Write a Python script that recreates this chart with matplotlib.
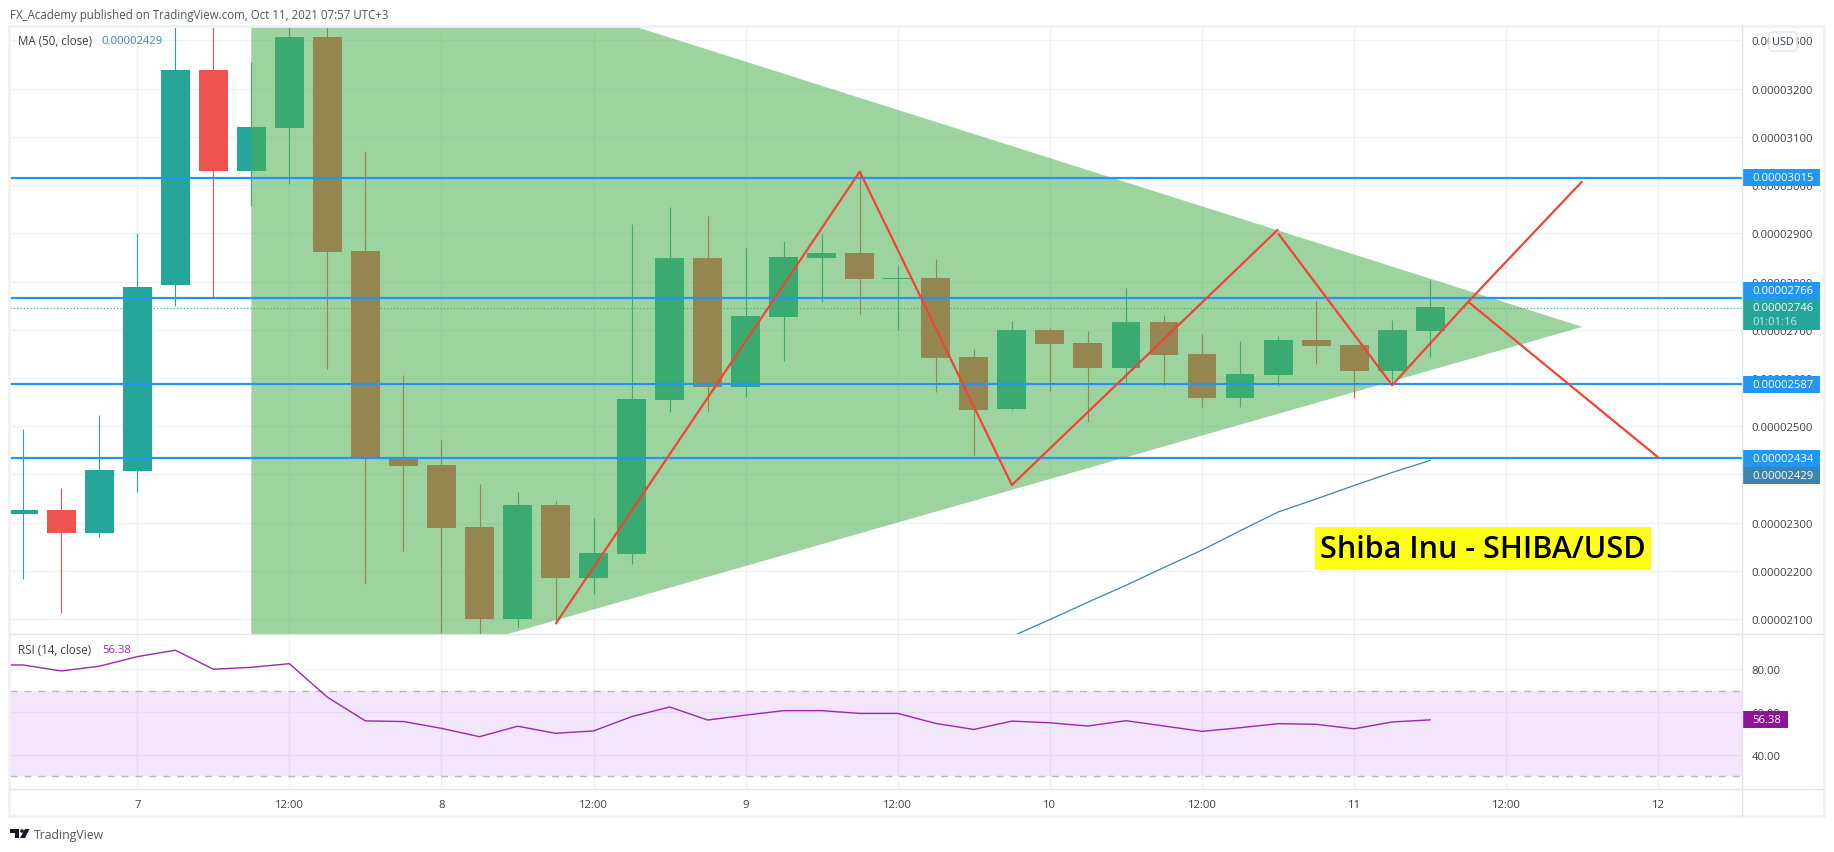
import matplotlib
matplotlib.use('Agg')
import matplotlib.pyplot as plt
import matplotlib.patches as patches

plt.rcParams['font.family'] = ['Open Sans', 'DejaVu Sans']

W, H = 1834, 853
TEAL = '#26a69a'
RED = '#ef5350'
BLUE = '#2196f3'
GRID = '#f0f2f6'
LINE = '#e0e3eb'
TXT = '#3c3f48'
FS = 8.1

# candle index 0 is the 7th 00:00, prices in units of 1e-8
candle_i = list(range(-3, 35))
opens = [2318, 2326, 2278, 2407, 2793, 3239, 3029, 3119, 3307, 2863, 2434, 2419, 2291, 2100,
         2337, 2185, 2235, 2554, 2849, 2581, 2727, 2849, 2859, 2805, 2807, 2643, 2536, 2700,
         2673, 2621, 2716, 2650, 2558, 2606, 2679, 2668, 2615, 2698]
closes = [2326, 2278, 2409, 2789, 3239, 3029, 3121, 3307, 2861, 2436, 2417, 2289, 2100, 2337,
          2185, 2237, 2556, 2849, 2581, 2729, 2851, 2859, 2805, 2807, 2641, 2534, 2700, 2671,
          2621, 2716, 2648, 2558, 2608, 2679, 2666, 2615, 2700, 2747]
highs = [2494, 2372, 2523, 2901, 3360, 3350, 3256, 3360, 3360, 3071, 2606, 2471, 2380, 2363,
         2345, 2310, 2919, 2955, 2936, 2870, 2884, 2899, 3027, 2832, 2847, 2660, 2718, 2704,
         2697, 2787, 2731, 2691, 2677, 2687, 2760, 2670, 2720, 2803]
lows = [2183, 2112, 2270, 2363, 2749, 2768, 2957, 3002, 2619, 2173, 2241, 2040, 2050, 2081,
        2090, 2152, 2214, 2529, 2531, 2561, 2635, 2758, 2733, 2700, 2571, 2440, 2534, 2573,
        2509, 2592, 2583, 2540, 2540, 2583, 2629, 2558, 2588, 2643]

ma_i = [23, 24, 25, 26, 27, 28, 29, 30, 31, 32, 33, 34]
ma_vals = [2064, 2099, 2135, 2170, 2207, 2243, 2283, 2322, 2349, 2377, 2404, 2429]

rsi_i = list(range(-4, 35))
rsi_vals = [82.1, 82.1, 79.3, 81.5, 86, 89, 80.1, 81, 82.7, 67, 55.9, 55.6, 52.4, 48.5, 53.4,
            50.1, 51.2, 57.9, 62.4, 56.3, 58.6, 60.7, 60.7, 59.4, 59.4, 54.7, 51.9, 55.8, 55,
            53.5, 56, 53.5, 51, 52.7, 54.6, 54.3, 52.2, 55.4, 56.38]

hlines = [3015, 2766, 2587, 2434]
last_price = 2746
triangle_i = [3, 38, 3]
triangle_p = [3581, 2706, 1917]
zig1_i = [11, 19, 23, 30]
zig1_p = [2090, 3028, 2378, 2908]
zig2_i = [30, 33, 35, 38]
zig2_p = [2900, 2585, 2758, 3008]
zig3_i = [35, 40]
zig3_p = [2758, 2435]

price_ticks = [3300, 3200, 3100, 3000, 2900, 2800, 2700, 2600, 2500, 2400, 2300, 2200, 2100]
rsi_ticks = [80, 60, 40]
time_ticks = [0, 4, 8, 12, 16, 20, 24, 28, 32, 36, 40]
time_labels = ['7', '12:00', '8', '12:00', '9', '12:00', '10', '12:00', '11', '12:00', '12']

# pixel layout of the panes
L, R = 9.5, 1742
TOP, MID, BOT = 27, 635, 790
XMIN, XMAX = -3.36, 42.2
PMIN, PMAX = 2069, 3330


def pane(y0, y1):
    return fig.add_axes([L / W, 1 - y1 / H, (R - L) / W, (y1 - y0) / H])


fig = plt.figure(figsize=(W / 100, H / 100), dpi=100, facecolor='white')
ax = pane(TOP, MID)
ax2 = pane(MID, BOT)

for a in (ax, ax2):
    a.set_xlim(XMIN, XMAX)
    a.set_axisbelow(True)
    a.grid(True, color=GRID, lw=1)
    a.yaxis.tick_right()
    a.tick_params(length=0, labelsize=FS, labelcolor=TXT, pad=7)
    for s in a.spines.values():
        s.set_visible(False)
    a.set_xticks(time_ticks)

ax.set_ylim(PMIN, PMAX)
ax.set_yticks(price_ticks)
ax.set_yticklabels([f'0.{p:08d}' for p in price_ticks])
ax.tick_params(labelbottom=False)

ax.axhline(last_price, color=TEAL, lw=0.8, ls=(0, (1, 2)), zorder=1)

for i, o, c, h, l in zip(candle_i, opens, closes, highs, lows):
    col = TEAL if c >= o else RED
    ax.vlines(i, l, h, color=col, lw=0.8, zorder=2)
    ax.bar(i, abs(c - o), bottom=min(o, c), width=0.76, color=col, zorder=2)

ax.add_patch(patches.Polygon(list(zip(triangle_i, triangle_p)), closed=True, lw=0,
                             facecolor=(76 / 255, 175 / 255, 80 / 255, 0.55), zorder=3))
ax.plot(ma_i, ma_vals, color='#3d85ad', lw=0.9, zorder=4)
for p in hlines:
    ax.axhline(p, color=BLUE, lw=1.6, zorder=5)
for xs, ys in ((zig1_i, zig1_p), (zig2_i, zig2_p), (zig3_i, zig3_p)):
    ax.plot(xs, ys, color='#f44336', lw=1.6, solid_capstyle='butt', zorder=6)

ax2.set_ylim(24, 96.6)
ax2.set_yticks(rsi_ticks)
ax2.set_yticklabels(['80.00', '60.00', '40.00'])
ax2.set_xticklabels(time_labels)
ax2.tick_params(axis='x', pad=7)
ax2.axhspan(30, 70, facecolor=(135 / 255, 0, 235 / 255), alpha=0.1, lw=0, zorder=1)
for v in (30, 70):
    ax2.axhline(v, color='#b9b5c0', lw=1, ls=(0, (5, 5)), zorder=2)
ax2.plot(rsi_i, rsi_vals, color='#9c27b0', lw=1, zorder=3)

# chrome on top, in pixel coordinates
ov = fig.add_axes([0, 0, 1, 1], facecolor='none', zorder=10)
ov.set_xlim(0, W)
ov.set_ylim(H, 0)
ov.axis('off')


def rsi_y(v):
    return MID + (96.6 - v) / (96.6 - 24) * (BOT - MID)


def tag(y, text, color, x1=1820, h=17):
    ov.add_patch(patches.Rectangle((1742, y - h / 2), x1 - 1742, h, facecolor=color, lw=0))
    ov.text(1752, y, text, color='white', fontsize=FS, weight='medium', va='center', ha='left')


# frame and pane lines
ov.add_patch(patches.Rectangle((8.5, 27), 1815, 790, fill=False, edgecolor='#f0f2f7', lw=2))
ov.plot([9, 1823], [MID, MID], color=LINE, lw=1)
ov.plot([9, 1823], [BOT, BOT], color=LINE, lw=1)
ov.plot([R, R], [27, 817], color=LINE, lw=1)

# the boxes sit where the chart stacks them, not exactly on their lines
tag_y = [178.5, 291.5, 385.5, 459.5]
for p, y in zip(hlines, tag_y):
    tag(y, f'0.{p:08d}', BLUE)
ov.add_patch(patches.Rectangle((1742, 300), 78, 31, facecolor=TEAL, lw=0))
ov.text(1752, 308, f'0.{last_price:08d}', color='white', fontsize=FS, weight='medium', va='center')
ov.text(1752, 322.5, '01:01:16', color='#c4e8e3', fontsize=FS, va='center')
tag(476.5, f'0.{ma_vals[-1]:08d}', '#3f84ad')
tag(rsi_y(rsi_vals[-1]), '56.38', '#8e1599', x1=1787.5)

ov.add_patch(patches.FancyBboxPatch((1770, 34), 26, 17, boxstyle='round,pad=1,rounding_size=4',
                                    facecolor='white', edgecolor=LINE, lw=1))
ov.text(1783, 42.5, 'USD', color=TXT, fontsize=7.8, ha='center', va='center')

ov.text(10, 15, 'FX_Academy published on TradingView.com, Oct 11, 2021 07:57 UTC+3',
        color='#50535e', fontsize=8.3, va='center')
ov.text(18, 41.5, 'MA (50, close)', color=TXT, fontsize=8.3, va='center')
ov.text(101, 41.5, '0.00002429', color='#3d85ad', fontsize=FS, va='center')
ov.text(18, 650.5, 'RSI (14, close)', color=TXT, fontsize=8.3, va='center')
ov.text(102, 650.5, '56.38', color='#9c27b0', fontsize=FS, va='center')

ov.add_patch(patches.Rectangle((1315, 528), 336, 43, facecolor='#ffff14', lw=0))
ov.text(1483, 549.5, 'Shiba Inu - SHIBA/USD', color='black', fontsize=22, weight=600,
        ha='center', va='center')

# TradingView logo
ov.add_patch(patches.Polygon([(10, 830), (19, 830), (19, 839), (15, 839), (15, 834), (10, 834)],
                             facecolor='#131722', lw=0))
ov.add_patch(patches.Circle((22, 832), 1.8, facecolor='#131722', lw=0))
ov.add_patch(patches.Polygon([(25, 830), (29.5, 830), (25, 839), (20, 839)],
                             facecolor='#131722', lw=0))
ov.text(34.3, 835.5, 'TradingView', color='#50535e', fontsize=8.8, va='center')

fig.savefig('out.png', dpi=100)
